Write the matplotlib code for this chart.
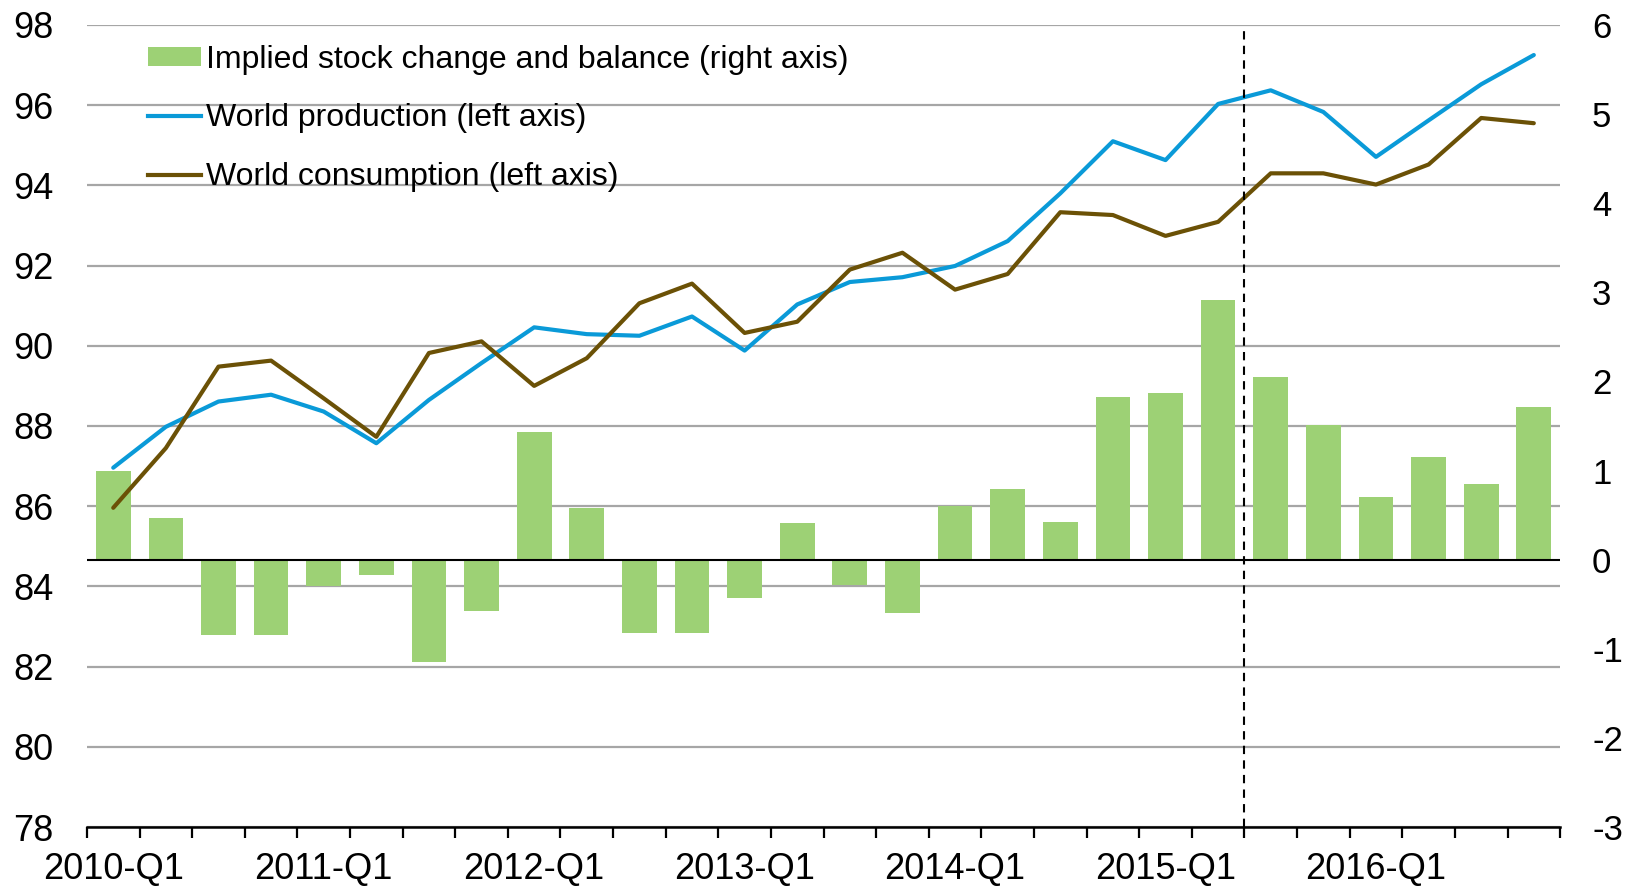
import numpy as np
import matplotlib
matplotlib.use("Agg")
import matplotlib.pyplot as plt
from matplotlib.patches import Patch
from matplotlib.lines import Line2D

# quarterly data, 2010-Q1 .. 2016-Q4
quarters = [f"{y}-Q{q}" for y in range(2010, 2017) for q in range(1, 5)]

production = [86.96, 87.98, 88.61, 88.78, 88.36, 87.57, 88.65, 89.57, 90.46, 90.29,
              90.25, 90.73, 89.88, 91.03, 91.59, 91.71, 91.99, 92.61, 93.80, 95.10,
              94.63, 96.03, 96.37, 95.83, 94.71, 95.62, 96.52, 97.25]
consumption = [85.96, 87.45, 89.48, 89.63, 88.69, 87.73, 89.82, 90.11, 89.00, 89.69,
               91.06, 91.55, 90.32, 90.60, 91.90, 92.32, 91.40, 91.79, 93.33, 93.26,
               92.74, 93.09, 94.30, 94.30, 94.02, 94.52, 95.68, 95.55]
stock_change = [0.99, 0.47, -0.84, -0.85, -0.30, -0.17, -1.15, -0.58, 1.43, 0.58,
                -0.82, -0.82, -0.43, 0.41, -0.28, -0.60, 0.60, 0.79, 0.42, 1.83,
                1.87, 2.91, 2.05, 1.51, 0.70, 1.15, 0.85, 1.71]

left_ticks = list(range(78, 100, 2))
right_ticks = list(range(-3, 7))
forecast_after = "2015-Q2"   # dashed line after this quarter

plt.rcParams['font.family'] = ['Liberation Sans', 'DejaVu Sans']
plt.rcParams['axes.unicode_minus'] = False

green = '#9dd175'
blue = '#0a9ad8'
brown = '#6b5106'

fig = plt.figure(figsize=(16.405, 8.91), dpi=100)
ax = fig.add_axes([0.053, 0.0718, 0.898, 0.9002])
ax_bar = ax.twinx()
ax_line = ax.twinx()

x = np.arange(len(quarters))

# grid on the bottom axes (left scale)
ax.set_ylim(78, 98)
ax.set_yticks(left_ticks)
ax.yaxis.grid(True, color='#a6a6a6', linewidth=1.6)
ax.set_axisbelow(True)
ax.tick_params(axis='y', length=0, labelsize=26, pad=24)

# bars on the right scale
ax_bar.bar(x, stock_change, width=0.66, color=green, zorder=2)
ax_bar.axhline(0, color='black', linewidth=1.5, zorder=3)
ax_bar.set_ylim(-3, 6)
ax_bar.set_yticks(right_ticks)
ax_bar.tick_params(axis='y', length=0, labelsize=25, pad=23)

# lines on the left scale, drawn on top
ax_line.plot(x, production, color=blue, linewidth=3, solid_capstyle='round')
ax_line.plot(x, consumption, color=brown, linewidth=3, solid_capstyle='round')
ax_line.set_ylim(78, 98)
ax_line.set_yticks([])
split = quarters.index(forecast_after) + 0.5
ax_line.axvline(split, color='black', linewidth=1.5, linestyle=(0, (4, 3)))

for a in (ax, ax_bar, ax_line):
    for s in ('top', 'left', 'right'):
        a.spines[s].set_visible(False)
    a.spines['bottom'].set_visible(a is ax)
ax.spines['bottom'].set_linewidth(1.8)

ax.set_xlim(-0.5, len(quarters) - 0.5)
ax.set_xticks(np.arange(-0.5, len(quarters), 1.0))
ax.set_xticklabels([])
ax.tick_params(axis='x', which='major', direction='out', length=8, width=1.6)
q1 = [i for i, q in enumerate(quarters) if q.endswith('Q1')]
ax.set_xticks(q1, minor=True)
ax.set_xticklabels([quarters[i] for i in q1], minor=True)
ax.tick_params(axis='x', which='minor', length=0, labelsize=26, pad=18)

handles = [Patch(facecolor=green, edgecolor='none'),
           Line2D([], [], color=blue, linewidth=3),
           Line2D([], [], color=brown, linewidth=3)]
labels = ['Implied stock change and balance (right axis)',
          'World production (left axis)',
          'World consumption (left axis)']
ax_line.legend(handles, labels, loc='upper left', bbox_to_anchor=(0.090, 0.950),
               bbox_transform=fig.transFigure, frameon=False, fontsize=23,
               handlelength=1.66, handleheight=0.55, handletextpad=0.16,
               labelspacing=0.9, borderaxespad=0, borderpad=0)

fig.savefig('out.png', dpi=100)
